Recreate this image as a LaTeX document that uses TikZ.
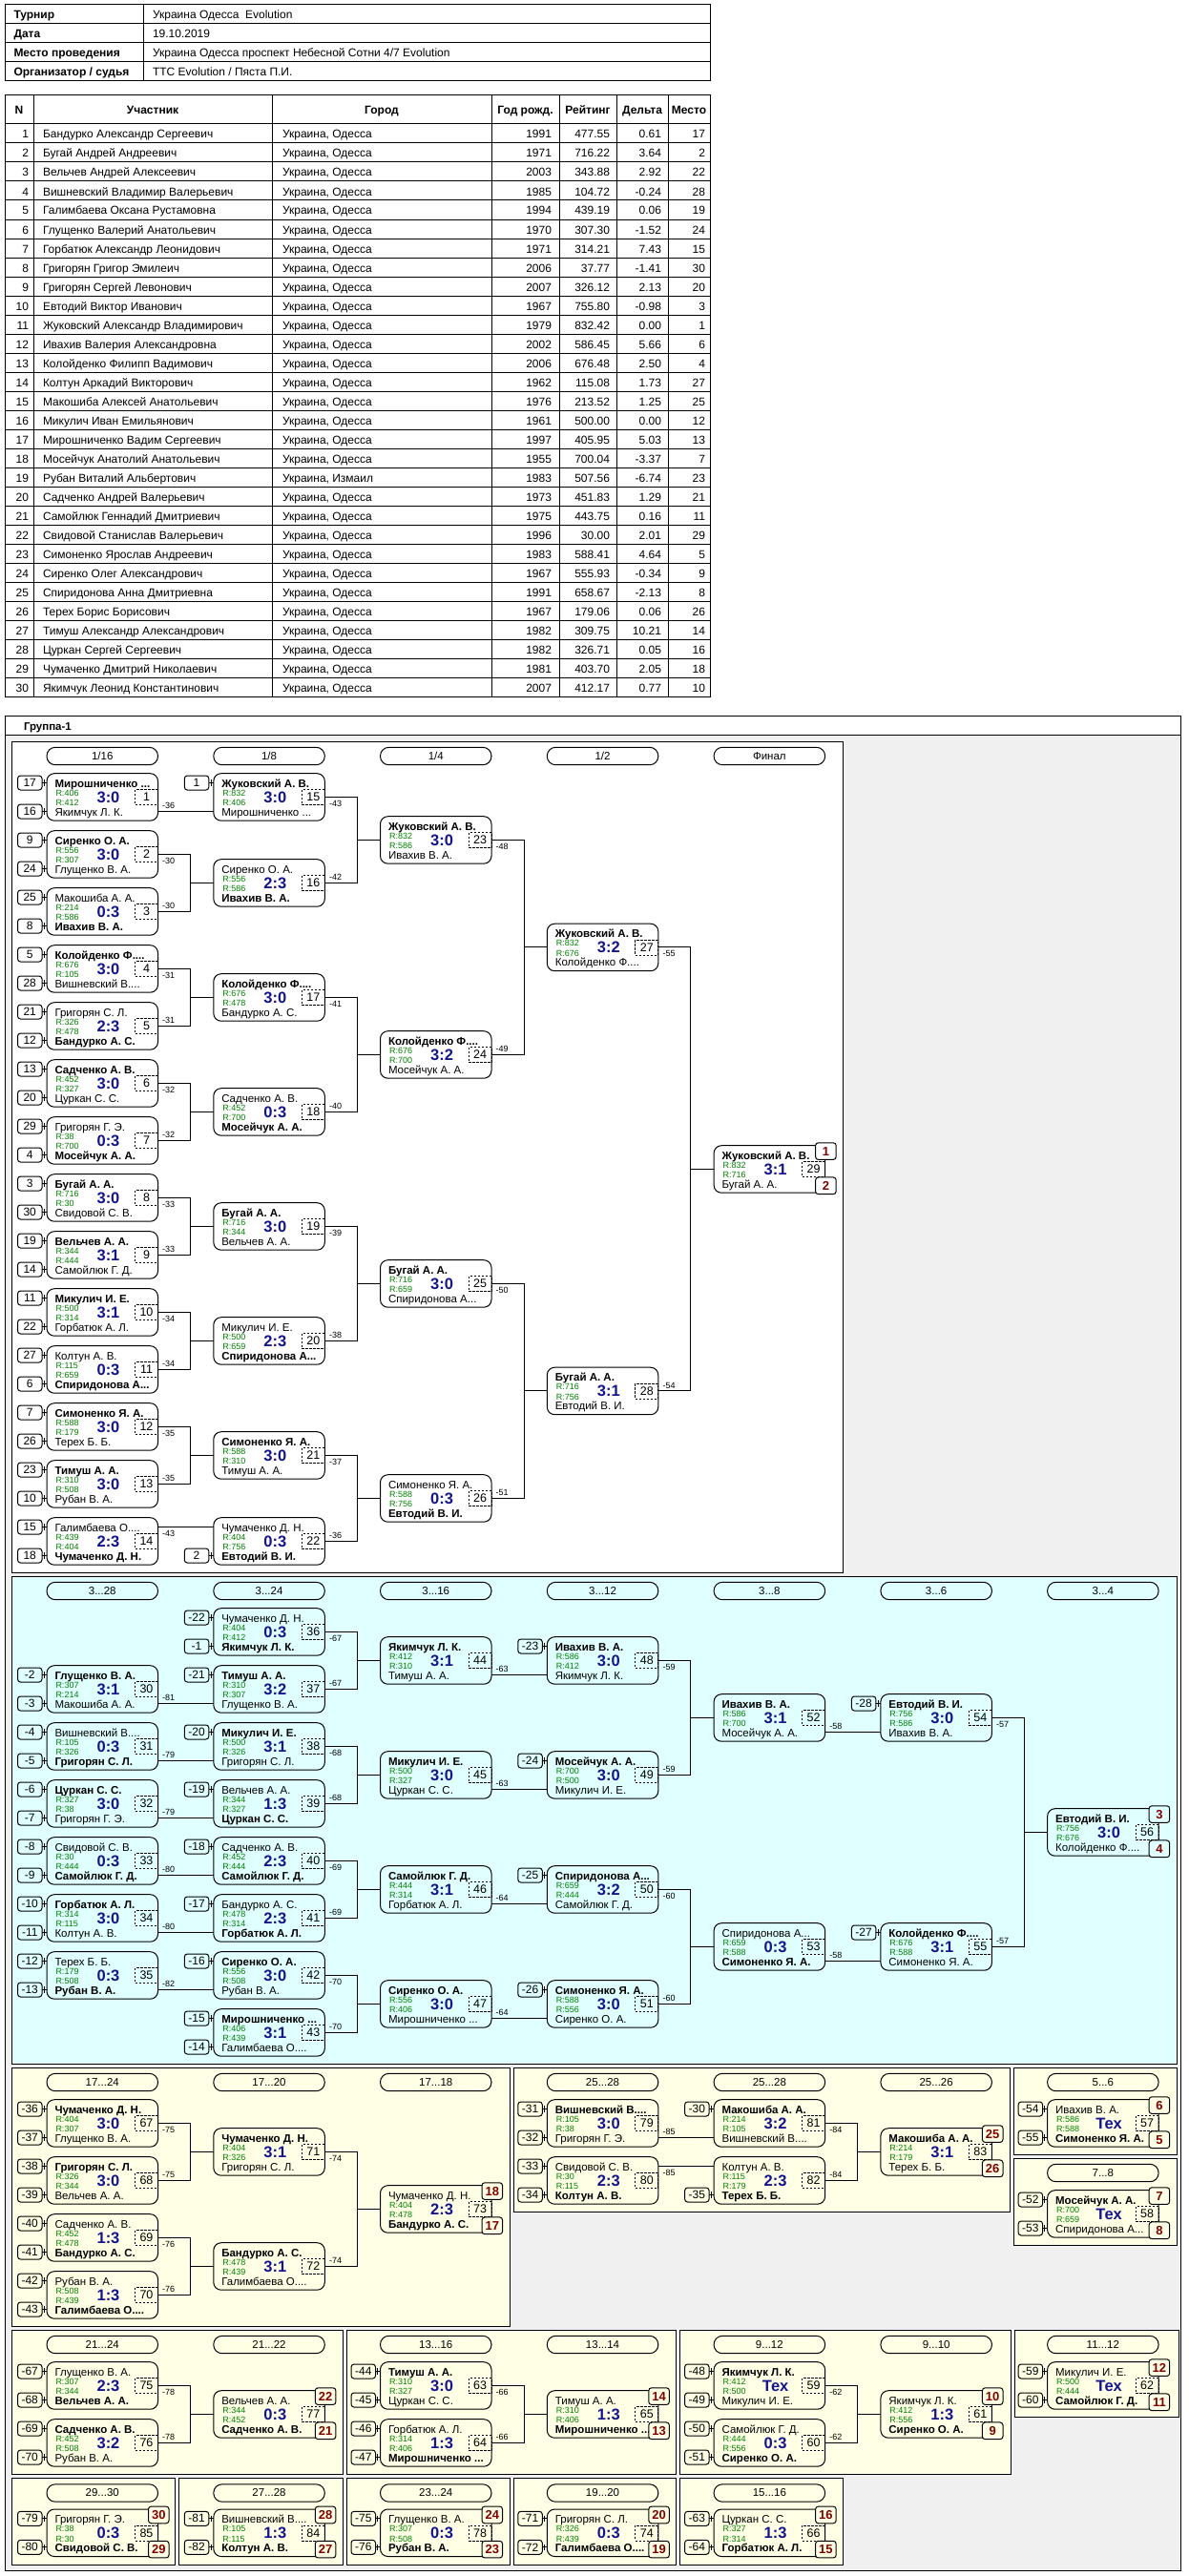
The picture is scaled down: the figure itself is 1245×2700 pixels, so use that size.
\documentclass[tikz,border=0pt]{standalone}
\usepackage{fontspec}
\setmainfont{Liberation Sans}
\usetikzlibrary{calc}
\definecolor{scblue}{RGB}{20,20,140}
\definecolor{rgreen}{RGB}{0,128,0}
\definecolor{bgred}{RGB}{128,0,0}
\definecolor{gbg}{RGB}{240,240,240}
\definecolor{cyanbg}{RGB}{224,255,255}
\definecolor{yelbg}{RGB}{255,255,230}
\newcommand{\fs}[1]{\fontsize{#1}{#1}\selectfont}
\newcommand{\wn}[1]{\textbf{#1}}
\def\pfill{white}
\def\colA{49}\def\colB{223.8}\def\colC{398.5}\def\colD{573.3}\def\colE{748.1}\def\colF{922.9}\def\colG{1097.6}
\def\UO{Украина, Одесса}
\tikzset{
 every node/.style={inner sep=0pt,outer sep=0pt},
 mbox/.style={draw,line width=1pt,rounded corners=8pt,minimum width=116.5pt,minimum height=49.5pt,anchor=north west},
 nm/.style={anchor=base west,font=\fs{11.5}},
 rt/.style={anchor=base west,font=\fs{9},text=rgreen},
 sc/.style={anchor=base,font=\fs{16.5}\bfseries,text=scblue},
 nb/.style={draw,dash pattern=on 2.5pt off 1.5pt,line width=0.8pt,minimum width=24pt,minimum height=16pt,font=\fs{12.5}},
 seed/.style={draw,line width=1pt,rounded corners=3pt,minimum width=25.5pt,minimum height=15pt,font=\fs{12}},
 badge/.style={draw,line width=1pt,rounded corners=3pt,minimum width=21.6pt,minimum height=17.7pt,font=\fs{13}\bfseries,text=bgred,fill=\pfill},
 lbl/.style={anchor=west,font=\fs{9}},
 hdr/.style={draw,line width=1pt,rounded corners=9pt,minimum width=116.5pt,minimum height=18.4pt,font=\fs{11.5}},
 cn/.style={line width=1pt},
 tb/.style={font=\fs{12}},
 th/.style={font=\fs{12}\bfseries},
 pnl/.style={draw,line width=1pt},
}
\newcommand{\MB}[8]{%
 \node[mbox] (m#1) at (#2,#3) {};
 \node[nm] (m#1a) at (#2+8.5,#3+14.3) {#4};
 \node[rt] (m#1r) at (#2+9.5,#3+23.3) {#5};
 \node[rt] (m#1s) at (#2+9.5,#3+34) {#6};
 \node[nm] (m#1b) at (#2+8.5,#3+44.3) {#7};
 \node[sc] (m#1c) at (#2+64.5,#3+30.6) {#8};
 \node[nb] (m#1d) at (#2+104.5,#3+24.9) {#1};
}
\newcommand{\SDx}[4]{\node[seed] (s#1#2) at ($(m#1.north west)+(-17.75,#3)$) {#4};
 \draw[cn] (s#1#2.east) -- (s#1#2.east -| m#1.west);
 \draw[cn] ($(s#1#2.east)+(2.3,-3.2)$) -- ++(0,6.4);}
\newcommand{\SDa}[2]{\SDx{#1}{a}{9.8}{#2}}
\newcommand{\SDb}[2]{\SDx{#1}{b}{39.8}{#2}}
\newcommand{\SD}[3]{\SDa{#1}{#2}\SDb{#1}{#3}}
\newcommand{\BG}[3]{\node[badge] (b#1t) at ($(m#1.north east)+(0.8,5.9)$) {#2};
 \node[badge] (b#1b) at ($(m#1.north east)+(0.8,42.1)$) {#3};}
\newcommand{\LB}[3]{\node[lbl] (l#1) at ($(m#1.east)+(4.7,#2)$) {#3};}
\newcommand{\PR}[5]{\draw[cn] (m#1.east) -- ++(34,0) |- (m#3.west);
 \draw[cn] (m#2.east) -- ++(34,0) |- (m#3.west);
 \LB{#1}{6.8}{#4}\LB{#2}{-5.8}{#5}}
\newcommand{\LN}[3]{\draw[cn] ($(m#1.east)+(0,15)$) -- ($(m#2.west)+(0,15)$); \LB{#1}{9.2}{#3}}
\newcommand{\LT}[3]{\draw[cn] ($(m#1.east)+(0,-15)$) -- ($(m#2.west)+(0,-15)$); \LB{#1}{-8.2}{#3}}
\newcommand{\HD}[4]{\node[hdr] (#1) at (#2+58.25,#3) {#4};}
\begin{document}
\begin{tikzpicture}[x=1pt,y=-1pt]
\useasboundingbox[fill=white] (0,0) rectangle (1245,2700);
% ---------- info table
\draw[line width=1pt] (5,5) rectangle (744,84.5);
\foreach \yy in {25,45,65} \draw[line width=1pt] (5,\yy) -- (744,\yy);
\draw[line width=1pt] (150,5) -- (150,84.5);
\node[th,anchor=base west] (i1) at (14.5,20) {Турнир};
\node[th,anchor=base west] (i2) at (14.5,40) {Дата};
\node[th,anchor=base west] (i3) at (14.5,60) {Место проведения};
\node[th,anchor=base west] (i4) at (14.5,79.5) {Организатор / судья};
\node[tb,anchor=base west] (v1) at (160,20) {Украина Одесса\ \ Evolution};
\node[tb,anchor=base west] (v2) at (160,40) {19.10.2019};
\node[tb,anchor=base west] (v3) at (160,60) {Украина Одесса проспект Небесной Сотни 4/7 Evolution};
\node[tb,anchor=base west] (v4) at (160,79.5) {ТТС Evolution / Пяста П.И.};
% ---------- players table
\draw[line width=1pt] (5,100) rectangle (744,730);
\foreach \k in {0,...,29} \draw[line width=1pt] (5,130+20*\k) -- (744,130+20*\k);
\foreach \xx in {35,285,515,586,646,700} \draw[line width=1pt] (\xx,100) -- (\xx,730);
\node[th,anchor=base] (t1) at (20,120) {N};
\node[th,anchor=base] (t2) at (160,120) {Участник};
\node[th,anchor=base] (t3) at (400,120) {Город};
\node[th,anchor=base] (t4) at (550.5,120) {Год рожд.};
\node[th,anchor=base] (t5) at (616,120) {Рейтинг};
\node[th,anchor=base] (t6) at (673,120) {Дельта};
\node[th,anchor=base] (t7) at (722,120) {Место};
\foreach \pN/\pName/\pCity/\pYr/\pRt/\pDl/\pPl in {
1/Бандурко Александр Сергеевич/\UO/1991/477.55/0.61/17,
2/Бугай Андрей Андреевич/\UO/1971/716.22/3.64/2,
3/Вельчев Андрей Алексеевич/\UO/2003/343.88/2.92/22,
4/Вишневский Владимир Валерьевич/\UO/1985/104.72/-0.24/28,
5/Галимбаева Оксана Рустамовна/\UO/1994/439.19/0.06/19,
6/Глущенко Валерий Анатольевич/\UO/1970/307.30/-1.52/24,
7/Горбатюк Александр Леонидович/\UO/1971/314.21/7.43/15,
8/Григорян Григор Эмилеич/\UO/2006/37.77/-1.41/30,
9/Григорян Сергей Левонович/\UO/2007/326.12/2.13/20,
10/Евтодий Виктор Иванович/\UO/1967/755.80/-0.98/3,
11/Жуковский Александр Владимирович/\UO/1979/832.42/0.00/1,
12/Ивахив Валерия Александровна/\UO/2002/586.45/5.66/6,
13/Колойденко Филипп Вадимович/\UO/2006/676.48/2.50/4,
14/Колтун Аркадий Викторович/\UO/1962/115.08/1.73/27,
15/Макошиба Алексей Анатольевич/\UO/1976/213.52/1.25/25,
16/Микулич Иван Емильянович/\UO/1961/500.00/0.00/12,
17/Мирошниченко Вадим Сергеевич/\UO/1997/405.95/5.03/13,
18/Мосейчук Анатолий Анатольевич/\UO/1955/700.04/-3.37/7,
19/Рубан Виталий Альбертович/{Украина, Измаил}/1983/507.56/-6.74/23,
20/Садченко Андрей Валерьевич/\UO/1973/451.83/1.29/21,
21/Самойлюк Геннадий Дмитриевич/\UO/1975/443.75/0.16/11,
22/Свидовой Станислав Валерьевич/\UO/1996/30.00/2.01/29,
23/Симоненко Ярослав Андреевич/\UO/1983/588.41/4.64/5,
24/Сиренко Олег Александрович/\UO/1967/555.93/-0.34/9,
25/Спиридонова Анна Дмитриевна/\UO/1991/658.67/-2.13/8,
26/Терех Борис Борисович/\UO/1967/179.06/0.06/26,
27/Тимуш Александр Александрович/\UO/1982/309.75/10.21/14,
28/Цуркан Сергей Сергеевич/\UO/1982/326.71/0.05/16,
29/Чумаченко Дмитрий Николаевич/\UO/1981/403.70/2.05/18,
30/Якимчук Леонид Константинович/\UO/2007/412.17/0.77/10}{
 \node[tb,anchor=base east] (pn\pN) at (30,125+20*\pN) {\pN};
 \node[tb,anchor=base west] (pa\pN) at (45,125+20*\pN) {\pName};
 \node[tb,anchor=base west] (pc\pN) at (296,125+20*\pN) {\pCity};
 \node[tb,anchor=base east] (py\pN) at (578,125+20*\pN) {\pYr};
 \node[tb,anchor=base east] (pr\pN) at (639,125+20*\pN) {\pRt};
 \node[tb,anchor=base east] (pd\pN) at (693,125+20*\pN) {\pDl};
 \node[tb,anchor=base east] (pp\pN) at (739,125+20*\pN) {\pPl};
}
% ---------- group frame and panels
\draw[line width=1pt,fill=gbg] (5.7,750) rectangle (1237.5,2694);
\draw[line width=1pt,fill=white] (5.7,750) rectangle (1237.5,770);
\node[anchor=base west,font=\fs{11.5}\bfseries] (gtitle) at (25,765) {Группа-1};
\draw[pnl,fill=white] (12.3,777) rectangle (883.6,1648);
\draw[pnl,fill=cyanbg] (12,1652) rectangle (1233.5,2163);
\draw[pnl,fill=yelbg] (12.7,2167) rectangle (534,2438);
\draw[pnl,fill=yelbg] (538,2167) rectangle (1058,2318);
\draw[pnl,fill=yelbg] (1062.6,2167) rectangle (1233.6,2258);
\draw[pnl,fill=yelbg] (1062.6,2262.7) rectangle (1233.6,2353);
\draw[pnl,fill=yelbg] (12,2442.7) rectangle (359,2593);
\draw[pnl,fill=yelbg] (363,2442.7) rectangle (708.5,2593);
\draw[pnl,fill=yelbg] (712.5,2442.7) rectangle (1059,2593);
\draw[pnl,fill=yelbg] (1063,2442.7) rectangle (1235,2533);
\draw[pnl,fill=yelbg] (12,2597) rectangle (183.5,2688);
\draw[pnl,fill=yelbg] (187.5,2597) rectangle (359,2688);
\draw[pnl,fill=yelbg] (363,2597) rectangle (534,2688);
\draw[pnl,fill=yelbg] (538,2597) rectangle (708.5,2688);
\draw[pnl,fill=yelbg] (712.5,2597) rectangle (883,2688);
% ---------- main bracket
\HD{h1}{\colA}{792.5}{1/16}\HD{h2}{\colB}{792.5}{1/8}\HD{h3}{\colC}{792.5}{1/4}
\HD{h4}{\colD}{792.5}{1/2}\HD{h5}{\colE}{792.5}{Финал}
\MB{1}{\colA}{810.7}{\wn{Мирошниченко ...}}{R:406}{R:412}{Якимчук Л. К.}{3:0}
\MB{2}{\colA}{870.7}{\wn{Сиренко О. А.}}{R:556}{R:307}{Глущенко В. А.}{3:0}
\MB{3}{\colA}{930.7}{Макошиба А. А.}{R:214}{R:586}{\wn{Ивахив В. А.}}{0:3}
\MB{4}{\colA}{990.7}{\wn{Колойденко Ф....}}{R:676}{R:105}{Вишневский В....}{3:0}
\MB{5}{\colA}{1050.7}{Григорян С. Л.}{R:326}{R:478}{\wn{Бандурко А. С.}}{2:3}
\MB{6}{\colA}{1110.7}{\wn{Садченко А. В.}}{R:452}{R:327}{Цуркан С. С.}{3:0}
\MB{7}{\colA}{1170.7}{Григорян Г. Э.}{R:38}{R:700}{\wn{Мосейчук А. А.}}{0:3}
\MB{8}{\colA}{1230.7}{\wn{Бугай А. А.}}{R:716}{R:30}{Свидовой С. В.}{3:0}
\MB{9}{\colA}{1290.7}{\wn{Вельчев А. А.}}{R:344}{R:444}{Самойлюк Г. Д.}{3:1}
\MB{10}{\colA}{1350.7}{\wn{Микулич И. Е.}}{R:500}{R:314}{Горбатюк А. Л.}{3:1}
\MB{11}{\colA}{1410.7}{Колтун А. В.}{R:115}{R:659}{\wn{Спиридонова А...}}{0:3}
\MB{12}{\colA}{1470.7}{\wn{Симоненко Я. А.}}{R:588}{R:179}{Терех Б. Б.}{3:0}
\MB{13}{\colA}{1530.7}{\wn{Тимуш А. А.}}{R:310}{R:508}{Рубан В. А.}{3:0}
\MB{14}{\colA}{1590.7}{Галимбаева О....}{R:439}{R:404}{\wn{Чумаченко Д. Н.}}{2:3}
\SD{1}{17}{16}\SD{2}{9}{24}\SD{3}{25}{8}\SD{4}{5}{28}\SD{5}{21}{12}\SD{6}{13}{20}\SD{7}{29}{4}
\SD{8}{3}{30}\SD{9}{19}{14}\SD{10}{11}{22}\SD{11}{27}{6}\SD{12}{7}{26}\SD{13}{23}{10}\SD{14}{15}{18}
\MB{15}{\colB}{810.7}{\wn{Жуковский А. В.}}{R:832}{R:406}{Мирошниченко ...}{3:0}
\MB{16}{\colB}{900.7}{Сиренко О. А.}{R:556}{R:586}{\wn{Ивахив В. А.}}{2:3}
\MB{17}{\colB}{1020.7}{\wn{Колойденко Ф....}}{R:676}{R:478}{Бандурко А. С.}{3:0}
\MB{18}{\colB}{1140.7}{Садченко А. В.}{R:452}{R:700}{\wn{Мосейчук А. А.}}{0:3}
\MB{19}{\colB}{1260.7}{\wn{Бугай А. А.}}{R:716}{R:344}{Вельчев А. А.}{3:0}
\MB{20}{\colB}{1380.7}{Микулич И. Е.}{R:500}{R:659}{\wn{Спиридонова А...}}{2:3}
\MB{21}{\colB}{1500.7}{\wn{Симоненко Я. А.}}{R:588}{R:310}{Тимуш А. А.}{3:0}
\MB{22}{\colB}{1590.7}{Чумаченко Д. Н.}{R:404}{R:756}{\wn{Евтодий В. И.}}{0:3}
\SDa{15}{1}\SDb{22}{2}
\MB{23}{\colC}{855.7}{\wn{Жуковский А. В.}}{R:832}{R:586}{Ивахив В. А.}{3:0}
\MB{24}{\colC}{1080.7}{\wn{Колойденко Ф....}}{R:676}{R:700}{Мосейчук А. А.}{3:2}
\MB{25}{\colC}{1320.7}{\wn{Бугай А. А.}}{R:716}{R:659}{Спиридонова А...}{3:0}
\MB{26}{\colC}{1545.7}{Симоненко Я. А.}{R:588}{R:756}{\wn{Евтодий В. И.}}{0:3}
\MB{27}{\colD}{968.2}{\wn{Жуковский А. В.}}{R:832}{R:676}{Колойденко Ф....}{3:2}
\MB{28}{\colD}{1433.2}{\wn{Бугай А. А.}}{R:716}{R:756}{Евтодий В. И.}{3:1}
\MB{29}{\colE}{1200.7}{\wn{Жуковский А. В.}}{R:832}{R:716}{Бугай А. А.}{3:1}
\BG{29}{1}{2}
\LN{1}{15}{-36}
\PR{2}{3}{16}{-30}{-30}\PR{4}{5}{17}{-31}{-31}\PR{6}{7}{18}{-32}{-32}
\PR{8}{9}{19}{-33}{-33}\PR{10}{11}{20}{-34}{-34}\PR{12}{13}{21}{-35}{-35}
\LT{14}{22}{-43}
\PR{15}{16}{23}{-43}{-42}\PR{17}{18}{24}{-41}{-40}\PR{19}{20}{25}{-39}{-38}\PR{21}{22}{26}{-37}{-36}
\PR{23}{24}{27}{-48}{-49}\PR{25}{26}{28}{-50}{-51}\PR{27}{28}{29}{-55}{-54}
% ---------- consolation 3..28
\def\pfill{cyanbg}
\HD{c1}{\colA}{1667.5}{3...28}\HD{c2}{\colB}{1667.5}{3...24}\HD{c3}{\colC}{1667.5}{3...16}
\HD{c4}{\colD}{1667.5}{3...12}\HD{c5}{\colE}{1667.5}{3...8}\HD{c6}{\colF}{1667.5}{3...6}\HD{c7}{\colG}{1667.5}{3...4}
\MB{30}{\colA}{1745.7}{\wn{Глущенко В. А.}}{R:307}{R:214}{Макошиба А. А.}{3:1}
\MB{31}{\colA}{1805.7}{Вишневский В....}{R:105}{R:326}{\wn{Григорян С. Л.}}{0:3}
\MB{32}{\colA}{1865.7}{\wn{Цуркан С. С.}}{R:327}{R:38}{Григорян Г. Э.}{3:0}
\MB{33}{\colA}{1925.7}{Свидовой С. В.}{R:30}{R:444}{\wn{Самойлюк Г. Д.}}{0:3}
\MB{34}{\colA}{1985.7}{\wn{Горбатюк А. Л.}}{R:314}{R:115}{Колтун А. В.}{3:0}
\MB{35}{\colA}{2045.7}{Терех Б. Б.}{R:179}{R:508}{\wn{Рубан В. А.}}{0:3}
\SD{30}{-2}{-3}\SD{31}{-4}{-5}\SD{32}{-6}{-7}\SD{33}{-8}{-9}\SD{34}{-10}{-11}\SD{35}{-12}{-13}
\MB{36}{\colB}{1685.7}{Чумаченко Д. Н.}{R:404}{R:412}{\wn{Якимчук Л. К.}}{0:3}
\MB{37}{\colB}{1745.7}{\wn{Тимуш А. А.}}{R:310}{R:307}{Глущенко В. А.}{3:2}
\MB{38}{\colB}{1805.7}{\wn{Микулич И. Е.}}{R:500}{R:326}{Григорян С. Л.}{3:1}
\MB{39}{\colB}{1865.7}{Вельчев А. А.}{R:344}{R:327}{\wn{Цуркан С. С.}}{1:3}
\MB{40}{\colB}{1925.7}{Садченко А. В.}{R:452}{R:444}{\wn{Самойлюк Г. Д.}}{2:3}
\MB{41}{\colB}{1985.7}{Бандурко А. С.}{R:478}{R:314}{\wn{Горбатюк А. Л.}}{2:3}
\MB{42}{\colB}{2045.7}{\wn{Сиренко О. А.}}{R:556}{R:508}{Рубан В. А.}{3:0}
\MB{43}{\colB}{2105.7}{\wn{Мирошниченко ...}}{R:406}{R:439}{Галимбаева О....}{3:1}
\SD{36}{-22}{-1}\SDa{37}{-21}\SDa{38}{-20}\SDa{39}{-19}\SDa{40}{-18}\SDa{41}{-17}\SDa{42}{-16}\SD{43}{-15}{-14}
\LN{30}{37}{-81}\LN{31}{38}{-79}\LN{32}{39}{-79}\LN{33}{40}{-80}\LN{34}{41}{-80}\LN{35}{42}{-82}
\MB{44}{\colC}{1715.7}{\wn{Якимчук Л. К.}}{R:412}{R:310}{Тимуш А. А.}{3:1}
\MB{45}{\colC}{1835.7}{\wn{Микулич И. Е.}}{R:500}{R:327}{Цуркан С. С.}{3:0}
\MB{46}{\colC}{1955.7}{\wn{Самойлюк Г. Д.}}{R:444}{R:314}{Горбатюк А. Л.}{3:1}
\MB{47}{\colC}{2075.7}{\wn{Сиренко О. А.}}{R:556}{R:406}{Мирошниченко ...}{3:0}
\PR{36}{37}{44}{-67}{-67}\PR{38}{39}{45}{-68}{-68}\PR{40}{41}{46}{-69}{-69}\PR{42}{43}{47}{-70}{-70}
\MB{48}{\colD}{1715.7}{\wn{Ивахив В. А.}}{R:586}{R:412}{Якимчук Л. К.}{3:0}
\MB{49}{\colD}{1835.7}{\wn{Мосейчук А. А.}}{R:700}{R:500}{Микулич И. Е.}{3:0}
\MB{50}{\colD}{1955.7}{\wn{Спиридонова А...}}{R:659}{R:444}{Самойлюк Г. Д.}{3:2}
\MB{51}{\colD}{2075.7}{\wn{Симоненко Я. А.}}{R:588}{R:556}{Сиренко О. А.}{3:0}
\SDa{48}{-23}\SDa{49}{-24}\SDa{50}{-25}\SDa{51}{-26}
\LN{44}{48}{-63}\LN{45}{49}{-63}\LN{46}{50}{-64}\LN{47}{51}{-64}
\MB{52}{\colE}{1775.7}{\wn{Ивахив В. А.}}{R:586}{R:700}{Мосейчук А. А.}{3:1}
\MB{53}{\colE}{2015.7}{Спиридонова А...}{R:659}{R:588}{\wn{Симоненко Я. А.}}{0:3}
\PR{48}{49}{52}{-59}{-59}\PR{50}{51}{53}{-60}{-60}
\MB{54}{\colF}{1775.7}{\wn{Евтодий В. И.}}{R:756}{R:586}{Ивахив В. А.}{3:0}
\MB{55}{\colF}{2015.7}{\wn{Колойденко Ф....}}{R:676}{R:588}{Симоненко Я. А.}{3:1}
\SDa{54}{-28}\SDa{55}{-27}
\LN{52}{54}{-58}\LN{53}{55}{-58}
\MB{56}{\colG}{1895.7}{\wn{Евтодий В. И.}}{R:756}{R:676}{Колойденко Ф....}{3:0}
\PR{54}{55}{56}{-57}{-57}
\BG{56}{3}{4}
% ---------- 17..24
\def\pfill{yelbg}
\HD{y1}{\colA}{2182.5}{17...24}\HD{y2}{\colB}{2182.5}{17...20}\HD{y3}{\colC}{2182.5}{17...18}
\MB{67}{\colA}{2200.7}{\wn{Чумаченко Д. Н.}}{R:404}{R:307}{Глущенко В. А.}{3:0}
\MB{68}{\colA}{2260.7}{\wn{Григорян С. Л.}}{R:326}{R:344}{Вельчев А. А.}{3:0}
\MB{69}{\colA}{2320.7}{Садченко А. В.}{R:452}{R:478}{\wn{Бандурко А. С.}}{1:3}
\MB{70}{\colA}{2380.7}{Рубан В. А.}{R:508}{R:439}{\wn{Галимбаева О....}}{1:3}
\SD{67}{-36}{-37}\SD{68}{-38}{-39}\SD{69}{-40}{-41}\SD{70}{-42}{-43}
\MB{71}{\colB}{2230.7}{\wn{Чумаченко Д. Н.}}{R:404}{R:326}{Григорян С. Л.}{3:1}
\MB{72}{\colB}{2350.7}{\wn{Бандурко А. С.}}{R:478}{R:439}{Галимбаева О....}{3:1}
\MB{73}{\colC}{2290.7}{Чумаченко Д. Н.}{R:404}{R:478}{\wn{Бандурко А. С.}}{2:3}
\PR{67}{68}{71}{-75}{-75}\PR{69}{70}{72}{-76}{-76}\PR{71}{72}{73}{-74}{-74}
\BG{73}{18}{17}
% ---------- 25..28
\HD{y4}{\colD}{2182.5}{25...28}\HD{y5}{\colE}{2182.5}{25...28}\HD{y6}{\colF}{2182.5}{25...26}
\MB{79}{\colD}{2200.7}{\wn{Вишневский В....}}{R:105}{R:38}{Григорян Г. Э.}{3:0}
\MB{80}{\colD}{2260.7}{Свидовой С. В.}{R:30}{R:115}{\wn{Колтун А. В.}}{2:3}
\SD{79}{-31}{-32}\SD{80}{-33}{-34}
\MB{81}{\colE}{2200.7}{\wn{Макошиба А. А.}}{R:214}{R:105}{Вишневский В....}{3:2}
\MB{82}{\colE}{2260.7}{Колтун А. В.}{R:115}{R:179}{\wn{Терех Б. Б.}}{2:3}
\SDa{81}{-30}\SDb{82}{-35}
\LN{79}{81}{-85}\LT{80}{82}{-85}
\MB{83}{\colF}{2230.7}{\wn{Макошиба А. А.}}{R:214}{R:179}{Терех Б. Б.}{3:1}
\PR{81}{82}{83}{-84}{-84}
\BG{83}{25}{26}
% ---------- 5..6 and 7..8
\HD{y7}{\colG}{2182.5}{5...6}
\MB{57}{\colG}{2200.7}{Ивахив В. А.}{R:586}{R:588}{\wn{Симоненко Я. А.}}{Тех}
\SD{57}{-54}{-55}\BG{57}{6}{5}
\HD{y8}{\colG}{2277.5}{7...8}
\MB{58}{\colG}{2295.7}{\wn{Мосейчук А. А.}}{R:700}{R:659}{Спиридонова А...}{Тех}
\SD{58}{-52}{-53}\BG{58}{7}{8}
% ---------- row 2
\HD{r1}{\colA}{2457.5}{21...24}\HD{r2}{\colB}{2457.5}{21...22}
\HD{r3}{\colC}{2457.5}{13...16}\HD{r4}{\colD}{2457.5}{13...14}
\HD{r5}{\colE}{2457.5}{9...12}\HD{r6}{\colF}{2457.5}{9...10}\HD{r7}{\colG}{2457.5}{11...12}
\MB{75}{\colA}{2475.7}{Глущенко В. А.}{R:307}{R:344}{\wn{Вельчев А. А.}}{2:3}
\MB{76}{\colA}{2535.7}{\wn{Садченко А. В.}}{R:452}{R:508}{Рубан В. А.}{3:2}
\SD{75}{-67}{-68}\SD{76}{-69}{-70}
\MB{77}{\colB}{2505.7}{Вельчев А. А.}{R:344}{R:452}{\wn{Садченко А. В.}}{0:3}
\PR{75}{76}{77}{-78}{-78}\BG{77}{22}{21}
\MB{63}{\colC}{2475.7}{\wn{Тимуш А. А.}}{R:310}{R:327}{Цуркан С. С.}{3:0}
\MB{64}{\colC}{2535.7}{Горбатюк А. Л.}{R:314}{R:406}{\wn{Мирошниченко ...}}{1:3}
\SD{63}{-44}{-45}\SD{64}{-46}{-47}
\MB{65}{\colD}{2505.7}{Тимуш А. А.}{R:310}{R:406}{\wn{Мирошниченко ...}}{1:3}
\PR{63}{64}{65}{-66}{-66}\BG{65}{14}{13}
\MB{59}{\colE}{2475.7}{\wn{Якимчук Л. К.}}{R:412}{R:500}{Микулич И. Е.}{Тех}
\MB{60}{\colE}{2535.7}{Самойлюк Г. Д.}{R:444}{R:556}{\wn{Сиренко О. А.}}{0:3}
\SD{59}{-48}{-49}\SD{60}{-50}{-51}
\MB{61}{\colF}{2505.7}{Якимчук Л. К.}{R:412}{R:556}{\wn{Сиренко О. А.}}{1:3}
\PR{59}{60}{61}{-62}{-62}\BG{61}{10}{9}
\MB{62}{\colG}{2475.7}{Микулич И. Е.}{R:500}{R:444}{\wn{Самойлюк Г. Д.}}{Тех}
\SD{62}{-59}{-60}\BG{62}{12}{11}
% ---------- row 3
\HD{q1}{\colA}{2613}{29...30}\HD{q2}{\colB}{2613}{27...28}\HD{q3}{\colC}{2613}{23...24}
\HD{q4}{\colD}{2613}{19...20}\HD{q5}{\colE}{2613}{15...16}
\MB{85}{\colA}{2630}{Григорян Г. Э.}{R:38}{R:30}{\wn{Свидовой С. В.}}{0:3}
\SD{85}{-79}{-80}\BG{85}{30}{29}
\MB{84}{\colB}{2630}{Вишневский В....}{R:105}{R:115}{\wn{Колтун А. В.}}{1:3}
\SD{84}{-81}{-82}\BG{84}{28}{27}
\MB{78}{\colC}{2630}{Глущенко В. А.}{R:307}{R:508}{\wn{Рубан В. А.}}{0:3}
\SD{78}{-75}{-76}\BG{78}{24}{23}
\MB{74}{\colD}{2630}{Григорян С. Л.}{R:326}{R:439}{\wn{Галимбаева О....}}{0:3}
\SD{74}{-71}{-72}\BG{74}{20}{19}
\MB{66}{\colE}{2630}{Цуркан С. С.}{R:327}{R:314}{\wn{Горбатюк А. Л.}}{1:3}
\SD{66}{-63}{-64}\BG{66}{16}{15}
\end{tikzpicture}
\end{document}
